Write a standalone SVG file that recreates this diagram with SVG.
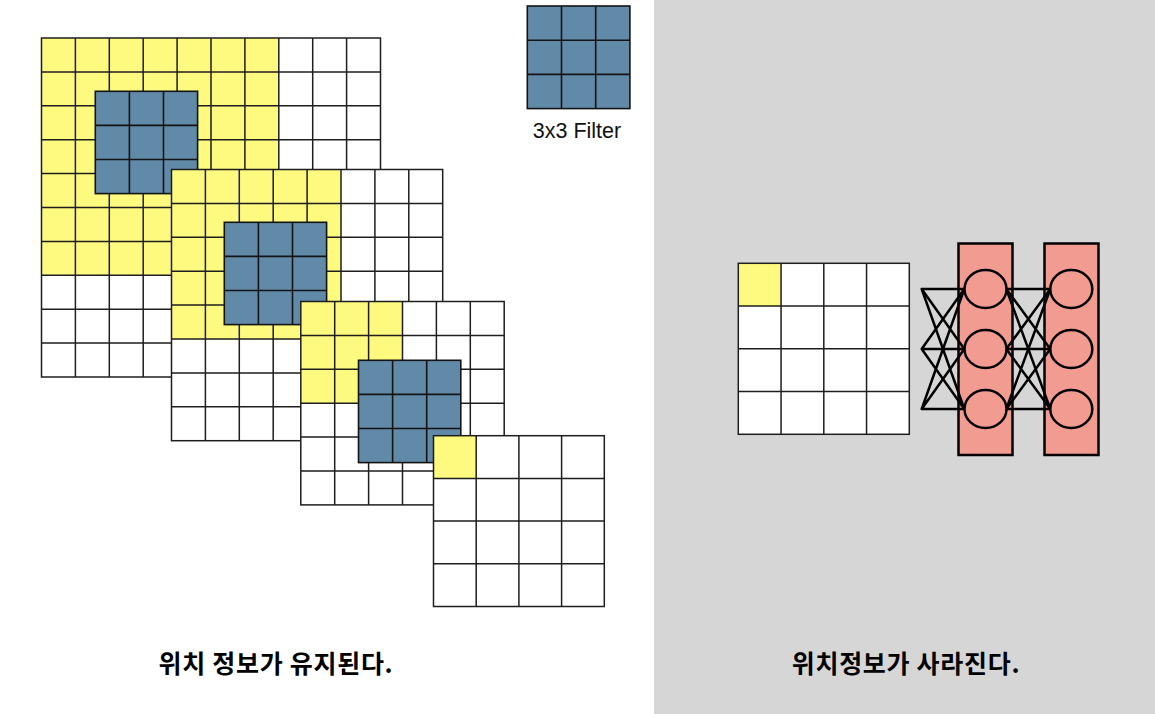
<svg xmlns="http://www.w3.org/2000/svg" width="1155" height="714" viewBox="0 0 1155 714">
<defs>
<style>
.flt{fill:#6189a8;stroke:#141414;stroke-width:1.6}
.layer{fill:#f29b91;stroke:#000;stroke-width:2.5}
.node{fill:#f29b91;stroke:#000;stroke-width:2.5}
.edge{stroke:#000;stroke-width:2.5;fill:none;stroke-linecap:round}
.lbl{font-family:"Noto Sans CJK KR","Noto Sans",sans-serif;font-weight:bold;font-size:25px;letter-spacing:0.7px;fill:#000}
.cap{font-family:"Liberation Sans",Arial,sans-serif;font-size:21.5px;fill:#111}
</style>
</defs>
<rect x="0" y="0" width="654" height="714" fill="#ffffff"/>
<rect x="654" y="0" width="501" height="714" fill="#d6d6d6"/>

<g id="grid1">
<rect x="41.5" y="38" width="339" height="339" fill="#fff"/>
<rect x="41.5" y="38" width="237.3" height="237.3" fill="#fef97f"/>
<path d="M75.4 38V377M109.3 38V377M143.2 38V377M177.1 38V377M211 38V377M244.9 38V377M278.8 38V377M312.7 38V377M346.6 38V377M41.5 71.9H380.5M41.5 105.8H380.5M41.5 139.7H380.5M41.5 173.6H380.5M41.5 207.5H380.5M41.5 241.4H380.5M41.5 275.3H380.5M41.5 309.2H380.5M41.5 343.1H380.5" stroke="#1e1e1e" stroke-width="1.5" fill="none"/>
<rect x="41.5" y="38" width="339" height="339" fill="none" stroke="#1e1e1e" stroke-width="1.5"/>
</g>
<g id="filter1">
<rect class="flt" x="95.3" y="91.3" width="102.3" height="102.3"/>
<path d="M129.4 91.3V193.6M163.5 91.3V193.6M95.3 125.4H197.6M95.3 159.5H197.6" stroke="#141414" stroke-width="1.6"/>
</g>

<g id="grid2">
<rect x="171.5" y="169.5" width="271.2" height="271.2" fill="#fff"/>
<rect x="171.5" y="169.5" width="169.5" height="169.5" fill="#fef97f"/>
<path d="M205.4 169.5V440.7M239.3 169.5V440.7M273.2 169.5V440.7M307.1 169.5V440.7M341 169.5V440.7M374.9 169.5V440.7M408.8 169.5V440.7M171.5 203.4H442.7M171.5 237.3H442.7M171.5 271.2H442.7M171.5 305.1H442.7M171.5 339H442.7M171.5 372.9H442.7M171.5 406.8H442.7" stroke="#1e1e1e" stroke-width="1.5" fill="none"/>
<rect x="171.5" y="169.5" width="271.2" height="271.2" fill="none" stroke="#1e1e1e" stroke-width="1.5"/>
</g>
<g id="filter2">
<rect class="flt" x="224.3" y="222.3" width="102.3" height="102.3"/>
<path d="M258.4 222.3V324.6M292.5 222.3V324.6M224.3 256.4H326.6M224.3 290.5H326.6" stroke="#141414" stroke-width="1.6"/>
</g>

<g id="grid3">
<rect x="300.8" y="301.5" width="203.4" height="203.4" fill="#fff"/>
<rect x="300.8" y="301.5" width="101.7" height="101.7" fill="#fef97f"/>
<path d="M334.7 301.5V504.9M368.6 301.5V504.9M402.5 301.5V504.9M436.4 301.5V504.9M470.3 301.5V504.9M300.8 335.4H504.2M300.8 369.3H504.2M300.8 403.2H504.2M300.8 437.1H504.2M300.8 471H504.2" stroke="#1e1e1e" stroke-width="1.5" fill="none"/>
<rect x="300.8" y="301.5" width="203.4" height="203.4" fill="none" stroke="#1e1e1e" stroke-width="1.5"/>
</g>
<g id="filter3">
<rect class="flt" x="358.5" y="360.3" width="102.3" height="102.3"/>
<path d="M392.6 360.3V462.6M426.7 360.3V462.6M358.5 394.4H460.8M358.5 428.5H460.8" stroke="#141414" stroke-width="1.6"/>
</g>

<g id="grid4">
<rect x="433.5" y="435.7" width="170.8" height="170.8" fill="#fff"/>
<rect x="433.5" y="435.7" width="42.7" height="42.7" fill="#fef97f"/>
<path d="M476.2 435.7V606.5M518.9 435.7V606.5M561.6 435.7V606.5M433.5 478.4H604.3M433.5 521.1H604.3M433.5 563.8H604.3" stroke="#1e1e1e" stroke-width="1.5" fill="none"/>
<rect x="433.5" y="435.7" width="170.8" height="170.8" fill="none" stroke="#1e1e1e" stroke-width="1.5"/>
</g>

<g id="filter-legend">
<rect class="flt" x="527.3" y="6" width="102.6" height="102.6"/>
<path d="M561.5 6V108.6M595.7 6V108.6M527.3 40.2H629.9M527.3 74.4H629.9" stroke="#141414" stroke-width="1.6"/>
<text class="cap" x="577" y="138" text-anchor="middle">3x3 Filter</text>
</g>

<g id="label-left">
<text class="lbl" x="276" y="673" text-anchor="middle">위치 정보가 유지된다.</text>
</g>

<g id="grid-right">
<rect x="738.3" y="263.3" width="171" height="171" fill="#fff"/>
<rect x="738.3" y="263.3" width="42.75" height="42.75" fill="#fef97f"/>
<path d="M781.05 263.3V434.3M823.8 263.3V434.3M866.55 263.3V434.3M738.3 306.05H909.3M738.3 348.8H909.3M738.3 391.55H909.3" stroke="#1e1e1e" stroke-width="1.5" fill="none"/>
<rect x="738.3" y="263.3" width="171" height="171" fill="none" stroke="#1e1e1e" stroke-width="1.5"/>
</g>

<g id="layer1">
<rect class="layer" x="958.5" y="243.5" width="54" height="211.5"/>
</g>
<g id="layer2">
<rect class="layer" x="1044.5" y="243.5" width="54" height="211.5"/>
</g>

<g id="connectors">
<path class="edge" d="M921.7 289L964.3 289M921.7 289L964.3 349M921.7 289L964.3 409M921.7 349L964.3 289M921.7 349L964.3 349M921.7 349L964.3 409M921.7 409L964.3 289M921.7 409L964.3 349M921.7 409L964.3 409"/>
<path class="edge" d="M1006.3 289L1050.3 289M1006.3 289L1050.3 349M1006.3 289L1050.3 409M1006.3 349L1050.3 289M1006.3 349L1050.3 349M1006.3 349L1050.3 409M1006.3 409L1050.3 289M1006.3 409L1050.3 349M1006.3 409L1050.3 409"/>
</g>

<g id="nodes-layer1">
<ellipse class="node" cx="985.5" cy="289" rx="21" ry="19"/>
<ellipse class="node" cx="985.5" cy="349" rx="21" ry="19"/>
<ellipse class="node" cx="985.5" cy="409" rx="21" ry="19"/>
</g>
<g id="nodes-layer2">
<ellipse class="node" cx="1071.3" cy="289" rx="21" ry="19"/>
<ellipse class="node" cx="1071.3" cy="349" rx="21" ry="19"/>
<ellipse class="node" cx="1071.3" cy="409" rx="21" ry="19"/>
</g>

<g id="label-right">
<text class="lbl" x="906" y="673" text-anchor="middle">위치정보가 사라진다.</text>
</g>
</svg>
